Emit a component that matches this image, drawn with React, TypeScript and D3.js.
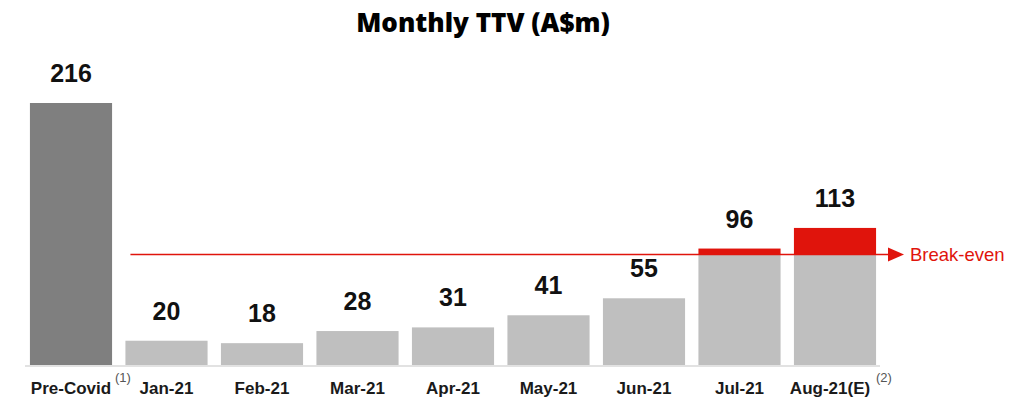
import React from 'react';
import * as d3 from 'd3';

const months = ['Pre-Covid', 'Jan-21', 'Feb-21', 'Mar-21', 'Apr-21', 'May-21', 'Jun-21', 'Jul-21', 'Aug-21(E)'];
const ttv = [216, 20, 18, 28, 31, 41, 55, 96, 113];
const notes = ['(1)', '', '', '', '', '', '', '', '(2)'];
const breakEven = 91;

const width = 1030;
const height = 400;
const baseY = 365;
const font = '"Liberation Sans", Arial, sans-serif';

export default function App() {
    const x = d3.scaleBand<string>()
        .domain(months)
        .range([23.25, 882.75])
        .paddingInner(0.14)
        .paddingOuter(0.07);
    const y = d3.scaleLinear().domain([0, 216]).range([baseY, 103]);
    const bw = x.bandwidth();
    const beY = y(breakEven);
    const lineStart = (x('Jan-21') as number) + 5;
    const lineEnd = 890;

    return (
        <svg width={width} height={height} style={{ position: 'absolute', left: 0, top: 0 }}>
            <text x={483} y={32} textAnchor="middle" fontFamily='"Open Sans", sans-serif' fontWeight={800} fontSize={26} fill="#000">
                Monthly TTV (A$m)
            </text>
            <line x1={25} x2={880} y1={baseY + 1} y2={baseY + 1} stroke="#d9d9d9" strokeWidth={1.5} />
            {months.map((m, i) => {
                const x0 = x(m) as number;
                const v = ttv[i];
                const top = y(v);
                const above = v > breakEven && i > 0;
                const greyTop = above ? beY : top;
                return (
                    <g key={m}>
                        <rect x={x0} y={greyTop} width={bw} height={baseY - greyTop} fill={i === 0 ? '#7f7f7f' : '#bfbfbf'} />
                        {above && <rect x={x0} y={top} width={bw} height={beY - top} fill="#e0140c" />}
                        <text x={x0 + bw / 2} y={top - 21} textAnchor="middle" fontFamily={font} fontWeight={700} fontSize={25} fill="#111">
                            {v}
                        </text>
                        <text x={x0 + bw / 2 - (i === 8 ? 5 : 0)} y={394} textAnchor="middle" fontFamily={font} fontWeight={700} fontSize={17} fill="#1a1a1a">
                            {m}
                        </text>
                    </g>
                );
            })}
            {months.map((m, i) => notes[i] && (
                <text key={'n' + m} x={(x(m) as number) + bw / 2 + (i === 0 ? 44 : 41)} y={382} fontFamily={font} fontSize={13} fill="#555">
                    {notes[i]}
                </text>
            ))}
            <line x1={lineStart} x2={lineEnd} y1={beY} y2={beY} stroke="#e0140c" strokeWidth={1.5} />
            <path d={`M${lineEnd - 2},${beY - 7} L${lineEnd + 14},${beY} L${lineEnd - 2},${beY + 7} Z`} fill="#e0140c" />
            <text x={910} y={beY + 6} fontFamily={font} fontSize={18.5} fill="#e0140c">Break-even</text>
        </svg>
    );
}
